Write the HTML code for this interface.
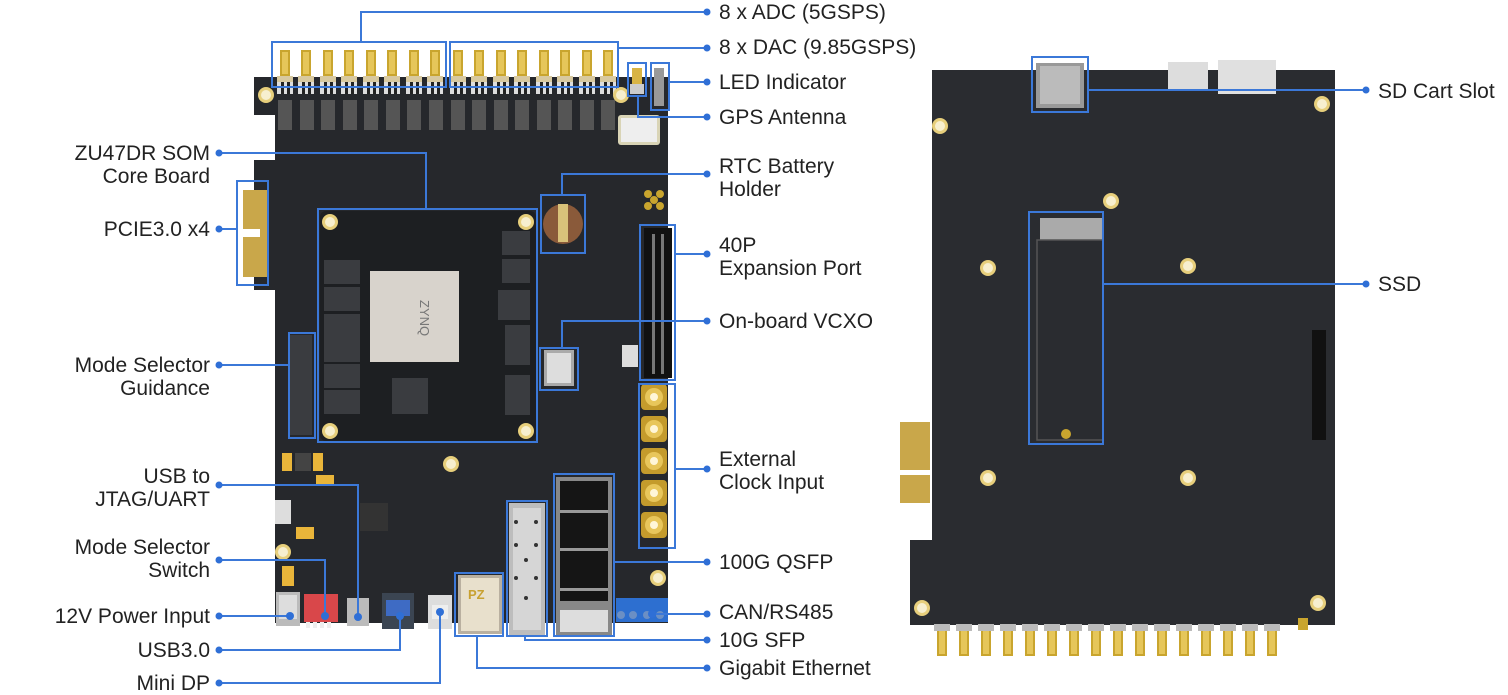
<!DOCTYPE html>
<html><head><meta charset="utf-8"><style>
html,body{margin:0;padding:0;background:#fff;}
#w{position:relative;width:1508px;height:695px;overflow:hidden;font-family:"Liberation Sans",sans-serif;}
svg{position:absolute;left:0;top:0;}
.t{position:absolute;font-size:21px;line-height:23px;color:#222;white-space:nowrap;}
.r{text-align:right;}
</style></head><body><div id="w">
<svg width="1508" height="695" viewBox="0 0 1508 695">
<defs>
<g id="sma"><rect x="-5" y="0" width="10" height="26" fill="#c9a52e"/><rect x="-3" y="2" width="6" height="22" fill="#e6c65a"/><rect x="-8" y="26" width="16" height="6" fill="#d8c9a0"/><rect x="-8" y="32" width="16" height="12" fill="#ddd"/><rect x="-4" y="32" width="3" height="12" fill="#222"/><rect x="2" y="32" width="3" height="12" fill="#222"/></g>
<g id="smab"><rect x="-5" y="0" width="10" height="26" fill="#c9a52e"/><rect x="-3" y="0" width="6" height="24" fill="#e6c65a"/><rect x="-8" y="-6" width="16" height="7" fill="#bbb"/></g>
<g id="hole"><circle r="8" fill="#e7cf7c"/><circle r="5" fill="#f7efcf"/></g>
<g id="ssma"><rect x="-13" y="-13" width="26" height="26" rx="4" fill="#c49b2c"/><circle r="9" fill="#e8c65b"/><circle r="4" fill="#fff6d8"/></g>
</defs>
<!-- LEFT BOARD -->
<path d="M254 77 H668 V623 H275 V290 H254 V160 H275 V115 H254 Z" fill="#26282c"/>
<rect x="243" y="190" width="25" height="87" fill="#c9a74a"/>
<rect x="240" y="229" width="20" height="8" fill="#fff"/>
<!-- ADC/DAC SMA -->
<g>
<use href="#sma" x="285" y="50"/><use href="#sma" x="306" y="50"/><use href="#sma" x="328" y="50"/><use href="#sma" x="349" y="50"/><use href="#sma" x="371" y="50"/><use href="#sma" x="392" y="50"/><use href="#sma" x="414" y="50"/><use href="#sma" x="435" y="50"/>
<use href="#sma" x="458" y="50"/><use href="#sma" x="479" y="50"/><use href="#sma" x="501" y="50"/><use href="#sma" x="522" y="50"/><use href="#sma" x="544" y="50"/><use href="#sma" x="565" y="50"/><use href="#sma" x="587" y="50"/><use href="#sma" x="608" y="50"/>
</g>
<g fill="#555"><rect x="278" y="100" width="14" height="30"/><rect x="300" y="100" width="14" height="30"/><rect x="321" y="100" width="14" height="30"/><rect x="343" y="100" width="14" height="30"/><rect x="364" y="100" width="14" height="30"/><rect x="386" y="100" width="14" height="30"/><rect x="407" y="100" width="14" height="30"/><rect x="429" y="100" width="14" height="30"/><rect x="451" y="100" width="14" height="30"/><rect x="472" y="100" width="14" height="30"/><rect x="494" y="100" width="14" height="30"/><rect x="515" y="100" width="14" height="30"/><rect x="537" y="100" width="14" height="30"/><rect x="558" y="100" width="14" height="30"/><rect x="580" y="100" width="14" height="30"/><rect x="601" y="100" width="14" height="30"/></g>
<use href="#hole" x="266" y="95"/><use href="#hole" x="621" y="95"/>
<rect x="632" y="68" width="10" height="20" fill="#d8b445"/><rect x="630" y="84" width="14" height="10" fill="#ccc"/>
<rect x="654" y="68" width="10" height="38" fill="#999"/>
<rect x="618" y="115" width="42" height="30" rx="3" fill="#d9d4b6"/><rect x="621" y="118" width="36" height="24" fill="#eee"/>
<!-- SOM -->
<rect x="320" y="211" width="216" height="230" rx="6" fill="#1d1f22"/>
<rect x="370" y="271" width="89" height="91" fill="#d8d3cc"/>
<text x="420" y="300" font-size="13" fill="#777" font-family="Liberation Sans" transform="rotate(90 420 300)">ZYNQ</text>
<g fill="#3a3c40"><rect x="324" y="260" width="36" height="24"/><rect x="324" y="287" width="36" height="24"/><rect x="324" y="314" width="36" height="24"/><rect x="324" y="338" width="36" height="24"/><rect x="324" y="364" width="36" height="24"/><rect x="324" y="390" width="36" height="24"/>
<rect x="502" y="231" width="28" height="24"/><rect x="502" y="259" width="28" height="24"/><rect x="498" y="290" width="32" height="30"/><rect x="505" y="325" width="25" height="40"/><rect x="505" y="375" width="25" height="40"/><rect x="392" y="378" width="36" height="36"/></g>
<use href="#hole" x="330" y="222"/><use href="#hole" x="526" y="222"/><use href="#hole" x="330" y="431"/><use href="#hole" x="526" y="431"/>
<!-- RTC -->
<circle cx="563" cy="224" r="20" fill="#8a5a3a"/><rect x="558" y="204" width="10" height="38" fill="#d9c27a"/>
<g fill="#c9a52e"><circle cx="648" cy="194" r="4"/><circle cx="660" cy="194" r="4"/><circle cx="654" cy="200" r="4"/><circle cx="648" cy="206" r="4"/><circle cx="660" cy="206" r="4"/></g>
<!-- 40P header -->
<rect x="644" y="228" width="28" height="150" fill="#111"/>
<g fill="#777"><rect x="652" y="234" width="3" height="140"/><rect x="661" y="234" width="3" height="140"/></g>
<!-- VCXO -->
<rect x="544" y="350" width="30" height="36" fill="#aaa"/><rect x="547" y="353" width="24" height="30" fill="#ddd"/>
<rect x="622" y="345" width="16" height="22" fill="#ddd"/>
<!-- Clock SMA -->
<use href="#ssma" x="654" y="397"/><use href="#ssma" x="654" y="429"/><use href="#ssma" x="654" y="461"/><use href="#ssma" x="654" y="493"/><use href="#ssma" x="654" y="525"/>
<use href="#hole" x="451" y="464"/><use href="#hole" x="658" y="578"/><use href="#hole" x="283" y="552"/>
<!-- lower components -->
<rect x="282" y="453" width="10" height="18" fill="#e9b53a"/><rect x="295" y="453" width="16" height="18" fill="#444"/><rect x="313" y="453" width="10" height="18" fill="#e9b53a"/>
<rect x="316" y="475" width="18" height="10" fill="#e9b53a"/><rect x="296" y="527" width="18" height="12" fill="#e9b53a"/><rect x="282" y="566" width="12" height="20" fill="#e9b53a"/>
<rect x="275" y="500" width="16" height="24" fill="#ddd"/>
<rect x="360" y="503" width="28" height="28" fill="#333"/>
<!-- bottom connectors -->
<rect x="276" y="592" width="24" height="34" fill="#bbb"/><rect x="279" y="595" width="18" height="24" fill="#ddd"/>
<rect x="304" y="594" width="34" height="28" fill="#d9474a"/><g fill="#eee"><rect x="306" y="622" width="4" height="6"/><rect x="313" y="622" width="4" height="6"/><rect x="320" y="622" width="4" height="6"/><rect x="327" y="622" width="4" height="6"/></g>
<rect x="347" y="598" width="22" height="28" fill="#bbb"/>
<rect x="382" y="593" width="32" height="36" fill="#3b4552"/><rect x="386" y="600" width="24" height="16" fill="#3e6bc4"/>
<rect x="428" y="595" width="24" height="34" fill="#ddd"/><rect x="432" y="605" width="16" height="14" fill="#eee"/>
<rect x="458" y="575" width="44" height="59" fill="#b9b0a0"/><rect x="461" y="578" width="38" height="53" fill="#e8e0cc"/>
<text x="468" y="599" font-size="13" font-weight="bold" fill="#c8a130" font-family="Liberation Sans">PZ</text>
<rect x="509" y="503" width="36" height="132" fill="#bdbdbd"/><rect x="513" y="508" width="28" height="122" fill="#d6d6d6"/>
<g fill="#333"><circle cx="516" cy="522" r="2"/><circle cx="536" cy="522" r="2"/><circle cx="516" cy="545" r="2"/><circle cx="536" cy="545" r="2"/><circle cx="526" cy="560" r="2"/><circle cx="516" cy="578" r="2"/><circle cx="536" cy="578" r="2"/><circle cx="526" cy="598" r="2"/></g>
<rect x="556" y="477" width="56" height="158" fill="#888"/><rect x="560" y="481" width="48" height="120" fill="#151515"/>
<g fill="#999"><rect x="560" y="510" width="48" height="3"/><rect x="560" y="548" width="48" height="3"/><rect x="560" y="588" width="48" height="3"/></g>
<rect x="560" y="610" width="48" height="22" fill="#ddd"/>
<rect x="616" y="598" width="52" height="24" fill="#2d6fd0"/><g fill="#6b8fc4"><circle cx="621" cy="615" r="4"/><circle cx="633" cy="615" r="4"/><circle cx="647" cy="615" r="4"/><circle cx="660" cy="615" r="4"/></g>
<rect x="290" y="335" width="22" height="100" fill="#3a3c40"/>

<!-- RIGHT BOARD -->
<path d="M932 70 H1335 V625 H910 V540 H932 V525 H932 V420 H932 Z" fill="#2a2c30"/>
<rect x="900" y="422" width="30" height="48" fill="#c9a74a"/><rect x="900" y="475" width="30" height="28" fill="#c9a74a"/>
<rect x="1036" y="63" width="48" height="45" fill="#999"/><rect x="1040" y="66" width="40" height="38" fill="#bbb"/>
<rect x="1168" y="62" width="40" height="28" fill="#ddd"/><rect x="1218" y="60" width="58" height="34" fill="#e0e0e0"/>
<rect x="1040" y="218" width="62" height="22" fill="#aaa"/>
<rect x="1037" y="240" width="66" height="200" fill="none" stroke="#555" stroke-width="1.5"/>
<circle cx="1066" cy="434" r="5" fill="#c9a52e"/>
<use href="#hole" x="940" y="126"/><use href="#hole" x="1322" y="104"/><use href="#hole" x="988" y="268"/><use href="#hole" x="1188" y="266"/><use href="#hole" x="1111" y="201"/><use href="#hole" x="988" y="478"/><use href="#hole" x="1188" y="478"/><use href="#hole" x="922" y="608"/><use href="#hole" x="1318" y="603"/>
<rect x="1312" y="330" width="14" height="110" fill="#111"/>
<g>
<use href="#smab" x="942" y="630"/><use href="#smab" x="964" y="630"/><use href="#smab" x="986" y="630"/><use href="#smab" x="1008" y="630"/><use href="#smab" x="1030" y="630"/><use href="#smab" x="1052" y="630"/><use href="#smab" x="1074" y="630"/><use href="#smab" x="1096" y="630"/><use href="#smab" x="1118" y="630"/><use href="#smab" x="1140" y="630"/><use href="#smab" x="1162" y="630"/><use href="#smab" x="1184" y="630"/><use href="#smab" x="1206" y="630"/><use href="#smab" x="1228" y="630"/><use href="#smab" x="1250" y="630"/><use href="#smab" x="1272" y="630"/>
</g>
<rect x="1298" y="618" width="10" height="12" fill="#c9a52e"/>

<!-- CALLOUTS -->
<g fill="none" stroke="#3b78d8" stroke-width="2">
<rect x="272" y="42" width="174" height="45"/><rect x="450" y="42" width="168" height="45"/>
<polyline points="707,12 361,12 361,42"/><polyline points="707,48 618,48"/>
<rect x="628" y="63" width="18" height="33"/><rect x="651" y="63" width="18" height="47"/>
<polyline points="669,82 707,82"/><polyline points="638,96 638,117 707,117"/>
<rect x="318" y="209" width="219" height="233"/><polyline points="219,153 426,153 426,209"/>
<rect x="237" y="181" width="31" height="104"/><polyline points="219,229 237,229"/>
<rect x="541" y="195" width="44" height="58"/><polyline points="562,195 562,174 707,174"/>
<rect x="640" y="225" width="35" height="155"/><polyline points="675,254 707,254"/>
<rect x="540" y="348" width="38" height="42"/><polyline points="562,348 562,321 707,321"/>
<rect x="639" y="384" width="36" height="164"/><polyline points="675,469 707,469"/>
<rect x="554" y="474" width="60" height="162"/><polyline points="614,562 707,562"/>
<rect x="507" y="501" width="40" height="135"/><polyline points="525,636 525,640 707,640"/>
<rect x="455" y="573" width="48" height="63"/><polyline points="477,636 477,668 707,668"/>
<polyline points="652,614 707,614"/>
<rect x="289" y="333" width="26" height="105"/><polyline points="219,365 289,365"/>
<polyline points="219,485 358,485 358,617"/>
<polyline points="219,560 325,560 325,616"/>
<polyline points="219,616 290,616"/>
<polyline points="219,650 400,650 400,616"/>
<polyline points="219,683 440,683 440,612"/>
<rect x="1032" y="57" width="56" height="55"/><polyline points="1088,90 1366,90"/>
<rect x="1029" y="212" width="74" height="232"/><polyline points="1103,284 1366,284"/>
</g>
<g fill="#2f6fd6">
<circle cx="707" cy="12" r="3.5"/><circle cx="707" cy="48" r="3.5"/><circle cx="707" cy="82" r="3.5"/><circle cx="707" cy="117" r="3.5"/><circle cx="707" cy="174" r="3.5"/><circle cx="707" cy="254" r="3.5"/><circle cx="707" cy="321" r="3.5"/><circle cx="707" cy="469" r="3.5"/><circle cx="707" cy="562" r="3.5"/><circle cx="707" cy="614" r="3.5"/><circle cx="707" cy="640" r="3.5"/><circle cx="707" cy="668" r="3.5"/>
<circle cx="219" cy="153" r="3.5"/><circle cx="219" cy="229" r="3.5"/><circle cx="219" cy="365" r="3.5"/><circle cx="219" cy="485" r="3.5"/><circle cx="219" cy="560" r="3.5"/><circle cx="219" cy="616" r="3.5"/><circle cx="219" cy="650" r="3.5"/><circle cx="219" cy="683" r="3.5"/>
<circle cx="358" cy="617" r="4"/><circle cx="325" cy="616" r="4"/><circle cx="290" cy="616" r="4"/><circle cx="400" cy="616" r="4"/><circle cx="440" cy="612" r="4"/><circle cx="652" cy="614" r="4"/>
<circle cx="1366" cy="90" r="3.5"/><circle cx="1366" cy="284" r="3.5"/>
</g>
</svg>
<div class="t" style="left:719px;top:1px">8 x ADC (5GSPS)</div>
<div class="t" style="left:719px;top:36px">8 x DAC (9.85GSPS)</div>
<div class="t" style="left:719px;top:71px">LED Indicator</div>
<div class="t" style="left:719px;top:106px">GPS Antenna</div>
<div class="t" style="left:719px;top:155px">RTC Battery<br>Holder</div>
<div class="t" style="left:719px;top:234px">40P<br>Expansion Port</div>
<div class="t" style="left:719px;top:310px">On-board VCXO</div>
<div class="t" style="left:719px;top:448px">External<br>Clock Input</div>
<div class="t" style="left:719px;top:551px">100G QSFP</div>
<div class="t" style="left:719px;top:601px">CAN/RS485</div>
<div class="t" style="left:719px;top:629px">10G SFP</div>
<div class="t" style="left:719px;top:657px">Gigabit Ethernet</div>
<div class="t r" style="right:1298px;top:142px">ZU47DR SOM<br>Core Board</div>
<div class="t r" style="right:1298px;top:218px">PCIE3.0 x4</div>
<div class="t r" style="right:1298px;top:354px">Mode Selector<br>Guidance</div>
<div class="t r" style="right:1298px;top:465px">USB to<br>JTAG/UART</div>
<div class="t r" style="right:1298px;top:536px">Mode Selector<br>Switch</div>
<div class="t r" style="right:1298px;top:605px">12V Power Input</div>
<div class="t r" style="right:1298px;top:639px">USB3.0</div>
<div class="t r" style="right:1298px;top:672px">Mini DP</div>
<div class="t" style="left:1378px;top:80px">SD Cart Slot</div>
<div class="t" style="left:1378px;top:273px">SSD</div>
</div></body></html>
